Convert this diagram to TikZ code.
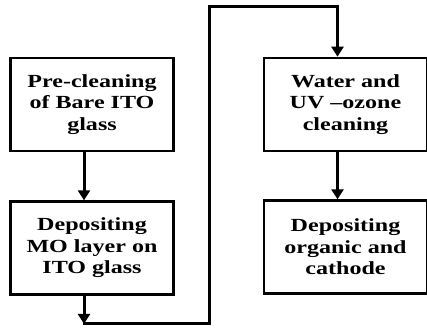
\documentclass[tikz,border=0pt]{standalone}
\usepackage{fontspec}
\setmainfont{Liberation Serif}[FakeStretch=1.3]
\usepackage{tikz}
\usetikzlibrary{positioning, arrows.meta}

\tikzset{
  stepbox/.style={draw, line width=2.6pt, minimum width=163pt, minimum height=93pt,
    align=center, inner sep=0pt, font=\bfseries\fontsize{18.5}{21.5}\selectfont},
  flow/.style={line width=3pt, -{Triangle[width=12pt,length=10pt]}}
}

\begin{document}
\begin{tikzpicture}[x=1pt, y=-1pt]
        \useasboundingbox (0,0) rectangle (427,331);
        \node[stepbox] (B1) at (92,104.5) {Pre-cleaning\\of Bare ITO\\glass};
        \node[stepbox, below=48pt of B1] (B2) {Depositing\\MO layer on\\ITO glass};
        \node[stepbox] (B3) at (345.5,104.5) {Water and\\UV --ozone\\cleaning};
        \node[stepbox, below=47pt of B3] (B4) {Depositing\\organic and\\cathode};
%
        \coordinate (D1) at ([xshift=-8pt, yshift=-28pt]B2.south);
        \coordinate (T1) at (209,7);
%
        \draw[flow] ([xshift=-8pt]B1.south) -- ([xshift=-8pt]B2.north);
        \draw[flow] ([xshift=-8pt]B2.south) -- (D1);
        \draw[flow, line cap=rect] (D1) -| (T1) -| ([xshift=-8pt]B3.north);
        \draw[flow] ([xshift=-8pt]B3.south) -- ([xshift=-8pt]B4.north);
\end{tikzpicture}
\end{document}
